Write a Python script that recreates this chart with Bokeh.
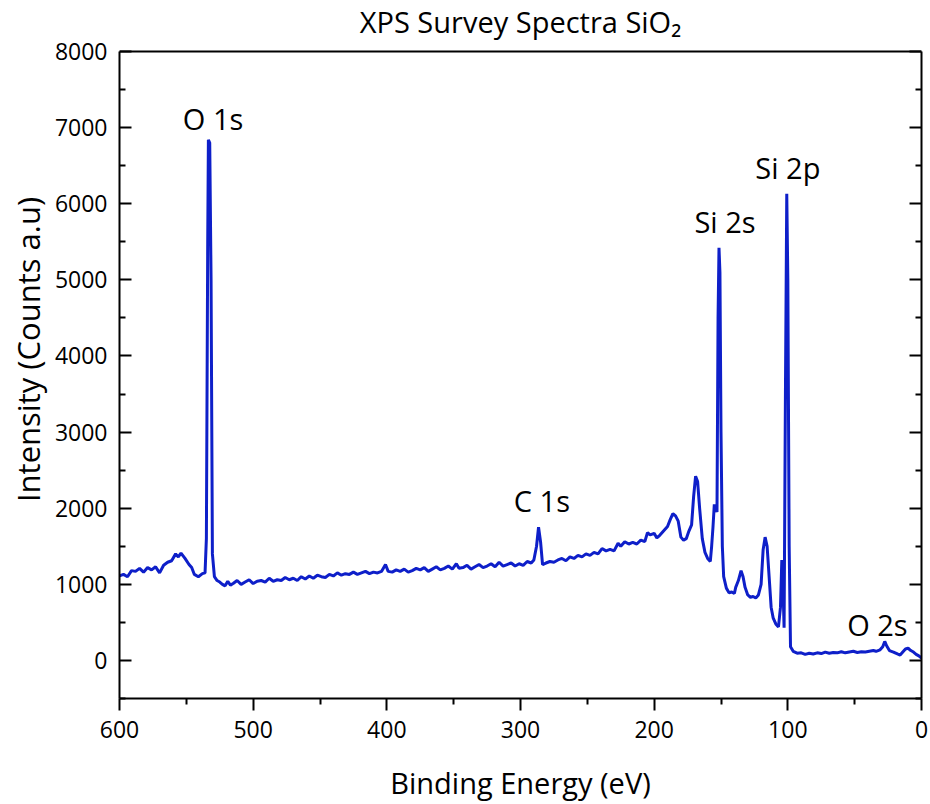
from bokeh.plotting import figure
from bokeh.models import Range1d, LinearAxis, ColumnDataSource, CustomJSTickFormatter, FixedTicker, Label, Span
from bokeh.embed import file_html
from bokeh.resources import INLINE

binding_energy = [600, 597, 594, 591, 588, 585, 582, 579, 576, 573, 570, 567, 564, 561, 558, 556, 554, 551, 548, 546,
                  544, 541, 538, 536, 535, 534, 533.5, 532.5, 531.5, 530.5, 529, 527, 525, 523, 521, 519, 517, 515,
                  512, 509, 506, 503, 500, 497, 494, 491, 488, 485, 482, 479, 476, 473, 470, 467, 464, 461, 458, 455,
                  452, 449, 446, 443, 440, 437, 434, 431, 428, 425, 422, 419, 416, 413, 410, 407, 404, 401, 399, 396,
                  393, 390, 387, 384, 381, 378, 375, 372, 369, 366, 363, 360, 357, 354, 351, 348, 346, 343, 340, 337,
                  334, 331, 328, 325, 322, 319, 316, 313, 310, 307, 304, 301, 298, 295, 292, 290, 288, 286.5, 285,
                  283.5, 281, 278, 275, 272, 269, 266, 263, 260, 257, 254, 251, 248, 245, 242, 239, 236, 233, 230,
                  227, 225, 222, 219, 216, 213, 210, 207, 205, 203, 200, 198, 196, 193, 190, 188, 186, 184, 182, 180,
                  178, 176, 174, 172, 170.5, 169, 167.5, 166, 164, 162, 160, 158, 157, 156, 155, 154, 153, 152.2,
                  151.5, 150.8, 150, 149, 148, 146, 144, 142, 140, 139, 137, 135, 133.5, 132, 130, 128, 126, 124,
                  122, 120, 118.5, 117, 115.5, 114, 112.5, 111, 109, 107, 105.5, 104.5, 103.5, 102.8, 101.8, 100.8,
                  100, 99, 98, 96, 93, 90, 87, 84, 81, 78, 75, 72, 69, 66, 63, 60, 57, 54, 51, 48, 45, 42, 39, 36,
                  34, 31, 29, 27.5, 26, 24, 21, 18, 16, 14, 12, 10, 8, 6, 4, 2, 0]
intensity = [1110, 1130, 1100, 1180, 1170, 1210, 1160, 1220, 1190, 1230, 1150, 1250, 1290, 1310, 1400, 1360, 1410, 1340,
             1260, 1220, 1130, 1100, 1140, 1150, 1600, 5500, 6840, 6800, 5000, 1400, 1100, 1050, 1030, 1000, 980, 1040,
             990, 1010, 1050, 1000, 1030, 1060, 1010, 1040, 1050, 1030, 1080, 1040, 1060, 1050, 1090, 1060, 1080, 1050,
             1100, 1070, 1110, 1080, 1120, 1100, 1090, 1130, 1110, 1150, 1120, 1140, 1130, 1160, 1130, 1150, 1170, 1140,
             1160, 1150, 1170, 1260, 1170, 1160, 1190, 1170, 1200, 1160, 1180, 1210, 1190, 1220, 1170, 1200, 1230, 1190,
             1210, 1240, 1200, 1270, 1210, 1220, 1250, 1200, 1230, 1260, 1220, 1240, 1270, 1230, 1290, 1240, 1260, 1280,
             1240, 1270, 1250, 1300, 1280, 1320, 1500, 1750, 1560, 1260, 1280, 1300, 1290, 1320, 1340, 1310, 1360, 1340,
             1380, 1360, 1400, 1380, 1420, 1400, 1470, 1440, 1460, 1440, 1540, 1500, 1560, 1530, 1550, 1530, 1580, 1560,
             1680, 1650, 1670, 1610, 1640, 1700, 1760, 1850, 1930, 1900, 1830, 1620, 1580, 1600, 1700, 1780, 2150, 2420,
             2350, 2000, 1600, 1420, 1340, 1300, 1500, 1750, 2050, 2000, 1950, 4500, 5420, 5100, 3000, 1500, 1100, 950,
             890, 900, 880, 960, 1050, 1180, 1100, 960, 860, 830, 840, 820, 860, 1000, 1450, 1620, 1500, 1100, 700, 560,
             480, 440, 700, 1320, 900, 430, 3500, 6130, 5000, 1500, 180, 120, 95, 100, 80, 95, 85, 100, 90, 110, 95, 105,
             100, 115, 100, 110, 120, 105, 115, 110, 120, 130, 120, 140, 180, 250, 190, 130, 110, 85, 70, 110, 150, 160,
             130, 110, 80, 60, 30]

peak_names = ["O 1s", "C 1s", "Si 2s", "Si 2p", "O 2s"]
peak_x = [530, 284, 147, 100, 33]
peak_y = [7120, 2100, 5770, 6480, 470]

x_ticks = [600, 500, 400, 300, 200, 100, 0]
x_minor = [550, 450, 350, 250, 150, 50]
y_ticks = [0, 1000, 2000, 3000, 4000, 5000, 6000, 7000, 8000]
y_minor = [-500, 500, 1500, 2500, 3500, 4500, 5500, 6500, 7500]
y_min, y_max = -500, 8000

title_text = "XPS Survey Spectra SiO\u2082"
x_label_text = "Binding Energy (eV)"
y_label_text = "Intensity (Counts a.u)"

FONT = "Open Sans"

# frame: 698 px tall from canvas top; the data box (-500..8000) occupies its lower 647 px,
# the strip above it holds the title
FRAME_H, BOX_H = 698, 647
y_top = y_min + (y_max - y_min) * FRAME_H / BOX_H

p = figure(width=930, height=804, output_backend="svg", toolbar_location=None,
           x_range=Range1d(600, 0), y_range=Range1d(y_min, y_top),
           min_border_left=119, min_border_right=9, min_border_top=0, min_border_bottom=106)

p.grid.visible = False
p.outline_line_color = None
p.background_fill_color = "white"
p.border_fill_color = "white"

src = ColumnDataSource(dict(x=binding_energy, y=intensity))
p.line("x", "y", source=src, line_color="#0e1fc9", line_width=3)

# top edge of the box
p.add_layout(Span(location=y_max, dimension="width", line_color="black", line_width=2))


def style_axis(ax):
    ax.axis_line_width = 2
    ax.axis_line_color = "black"
    ax.major_tick_line_width = 2
    ax.minor_tick_line_width = 2
    ax.major_tick_line_color = "black"
    ax.minor_tick_line_color = "black"
    ax.major_label_text_font = FONT
    ax.major_label_text_font_size = "23px"
    ax.major_label_text_color = "black"
    ax.axis_label_text_font = FONT
    ax.axis_label_text_font_size = "30px"
    ax.axis_label_text_font_style = "normal"
    ax.axis_label_text_color = "black"


xa = p.xaxis[0]
style_axis(xa)
xa.ticker = FixedTicker(ticks=x_ticks, minor_ticks=x_minor)
xa.axis_label = x_label_text
xa.axis_label_text_font_size = "29px"
xa.axis_label_text_line_height = 0.8
xa.axis_label_standoff = 22
xa.major_label_standoff = 10
xa.major_tick_in = 0
xa.major_tick_out = 12
xa.minor_tick_in = 0
xa.minor_tick_out = 6

ya = p.yaxis[0]
style_axis(ya)
ya.ticker = FixedTicker(ticks=y_ticks, minor_ticks=y_minor)
ya.bounds = (y_min, y_max)
ya.axis_label = y_label_text
ya.axis_label_text_font_size = "31px"
ya.axis_label_standoff = 3
ya.major_label_standoff = 12
ya.major_tick_in = 12
ya.major_tick_out = 0
ya.minor_tick_in = 6
ya.minor_tick_out = 0

ra = LinearAxis(ticker=FixedTicker(ticks=y_ticks, minor_ticks=y_minor),
                formatter=CustomJSTickFormatter(code="return ''"))
style_axis(ra)
ra.bounds = (y_min, y_max)
ra.major_tick_in = 12
ra.major_tick_out = 0
ra.minor_tick_in = 6
ra.minor_tick_out = 0
ra.major_label_standoff = 0
p.add_layout(ra, "right")

for name, xx, yy in zip(peak_names, peak_x, peak_y):
    p.add_layout(Label(x=xx, y=yy, text=name, text_font=FONT, text_font_size="29px",
                       text_align="center", text_baseline="middle", text_color="black"))

# chart title, in the strip above the data box
p.add_layout(Label(x=300, y=8390, text=title_text, text_font=FONT, text_font_size="29px",
                   text_align="center", text_baseline="middle", text_color="black"))

open("out.html", "w").write(file_html(p, INLINE))
